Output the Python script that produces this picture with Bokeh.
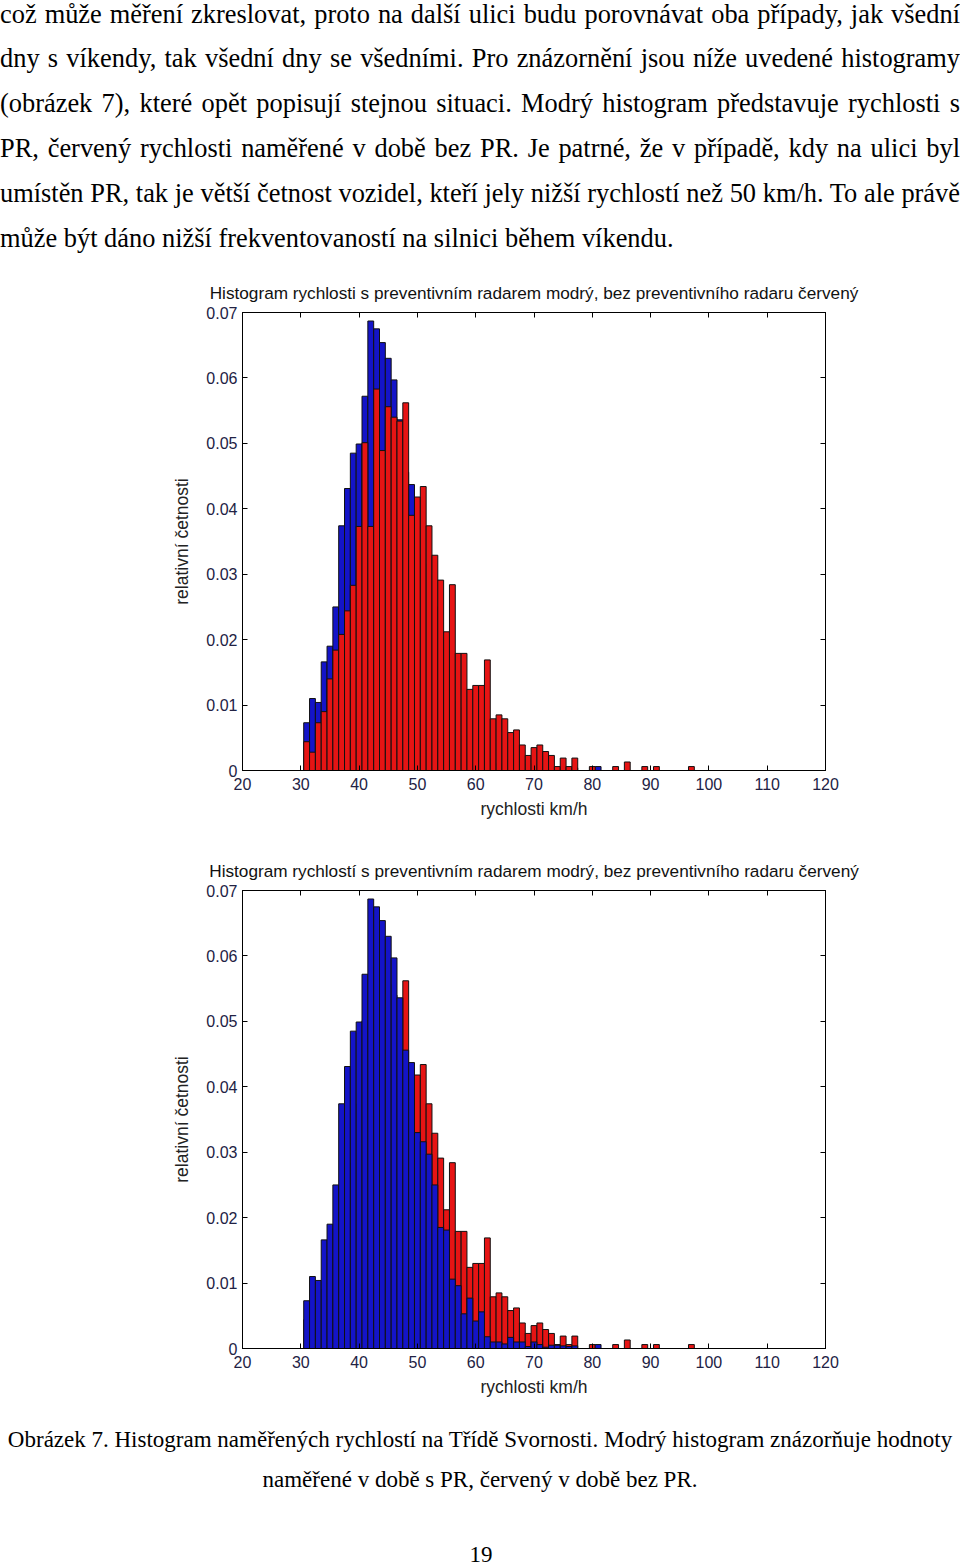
import unicodedata
from bokeh.plotting import figure
from bokeh.models import (Div, Range1d, FixedTicker, LinearAxis, NumeralTickFormatter,
                          ColumnDataSource)
from bokeh.layouts import column
from bokeh.embed import file_html
from bokeh.resources import INLINE

# ---------------- data ----------------
speeds = list(range(31, 98))
blue_vals = [0.0073, 0.0110, 0.0104, 0.0166, 0.0190, 0.0250, 0.0374, 0.0431, 0.0485, 0.0499,
             0.0572, 0.0687, 0.0675, 0.0654, 0.0630, 0.0597, 0.0536, 0.0456, 0.0437, 0.0330,
             0.0316, 0.0297, 0.0250, 0.0185, 0.0181, 0.0106, 0.0096, 0.0053, 0.0077, 0.0042,
             0.0056, 0.0018, 0.0010, 0.0010, 0.0007, 0.0017, 0.0010, 0.0010, 0.0003, 0.0010,
             0.0006, 0.0002, 0.0005, 0.0005, 0.0004, 0.0003, 0.0004, 0.0, 0.0, 0.0,
             0.0006, 0.0, 0.0, 0.0, 0.0, 0.0, 0.0, 0.0, 0.0, 0.0,
             0.0, 0.0, 0.0, 0.0, 0.0, 0.0, 0.0]
red_vals = [0.0044, 0.0028, 0.0073, 0.0090, 0.0140, 0.0184, 0.0208, 0.0244, 0.0283, 0.0373,
            0.0501, 0.0373, 0.0583, 0.0489, 0.0556, 0.0540, 0.0534, 0.0562, 0.0390, 0.0418,
            0.0434, 0.0374, 0.0329, 0.0291, 0.0212, 0.0284, 0.0179, 0.0179, 0.0124, 0.0130,
            0.0130, 0.0169, 0.0079, 0.0085, 0.0079, 0.0058, 0.0062, 0.0039, 0.0023, 0.0035,
            0.0039, 0.0029, 0.0023, 0.0006, 0.0019, 0.0006, 0.0019, 0.0, 0.0, 0.0006,
            0.0, 0.0, 0.0, 0.0006, 0.0, 0.0013, 0.0, 0.0, 0.0006, 0.0,
            0.0006, 0.0, 0.0, 0.0, 0.0, 0.0, 0.0006]
x_ticks = [20, 30, 40, 50, 60, 70, 80, 90, 100, 110, 120]
y_ticks = [0, 0.01, 0.02, 0.03, 0.04, 0.05, 0.06, 0.07]
titles = ["Histogram rychlosti s preventivním radarem modrý, bez preventivního radaru červený",
          "Histogram rychlostí s preventivním radarem modrý, bez preventivního radaru červený"]
x_label = "rychlosti km/h"
y_label = "relativní četnosti"

para_lines = [
    "což může měření zkreslovat, proto na další ulici budu porovnávat oba případy, jak všední",
    "dny s víkendy, tak všední dny se všedními. Pro znázornění jsou níže uvedené histogramy",
    "(obrázek 7), které opět popisují stejnou situaci. Modrý histogram představuje rychlosti s",
    "PR, červený rychlosti naměřené v době bez PR. Je patrné, že v případě, kdy na ulici byl",
    "umístěn PR, tak je větší četnost vozidel, kteří jely nižší rychlostí než 50 km/h. To ale právě",
    "může být dáno nižší frekventovaností na silnici během víkendu.",
]
caption_lines = [
    "Obrázek 7. Histogram naměřených rychlostí na Třídě Svornosti. Modrý histogram znázorňuje hodnoty",
    "naměřené v době s PR, červený v době bez PR.",
]
page_number = "19"

BLUE = "#1414C8"
RED = "#E61414"
SANS = "Liberation Sans"
SERIF = "Liberation Serif"
PARA_SIZE = 26.4

# Times-compatible advance widths (per 1000 em), used to keep justified lines on one line
_W = dict(zip("abcdefghijklmnopqrstuvwxyz",
              [444, 500, 444, 500, 444, 333, 500, 500, 278, 278, 500, 278, 778, 500, 500, 500,
               500, 333, 389, 278, 500, 500, 722, 500, 500, 444]))
_W.update(dict(zip("ABCDEFGHIJKLMNOPQRSTUVWXYZ",
                   [722, 667, 667, 722, 611, 556, 722, 722, 333, 389, 722, 611, 889, 722, 722,
                    556, 722, 667, 556, 611, 722, 722, 944, 722, 722, 611])))
_W.update({" ": 250, ",": 250, ".": 250, "(": 333, ")": 333, "/": 278, "-": 333})
_W.update({d: 500 for d in "0123456789"})


def text_width(s, size):
    tot = 0
    for ch in s:
        base = unicodedata.normalize("NFD", ch)[0]
        tot += _W.get(base, 500)
    return tot * size / 1000.0


def series_source(vals):
    xs = [s for s, v in zip(speeds, vals) if v > 0]
    ys = [v for v in vals if v > 0]
    return ColumnDataSource(dict(left=[x - 0.5 for x in xs], right=[x + 0.5 for x in xs],
                                 top=ys, bottom=[0] * len(ys)))


def make_hist(title, order, height, border_bottom):
    p = figure(width=960, height=height, output_backend="svg", toolbar_location=None,
               x_range=Range1d(20, 120), y_range=Range1d(0, 0.07),
               min_border_left=242, min_border_right=135,
               min_border_top=47, min_border_bottom=border_bottom)
    p.background_fill_color = "white"
    p.border_fill_color = "white"
    p.outline_line_color = "black"
    p.outline_line_width = 1
    p.grid.visible = False
    p.title.text = title
    p.title.align = "center"
    p.title.text_font = SANS
    p.title.text_font_size = "17.2px"
    p.title.text_font_style = "normal"
    p.title.text_color = "#111111"
    p.title.standoff = 19

    for name in order:
        src = series_source(blue_vals if name == "blue" else red_vals)
        p.quad(left="left", right="right", top="top", bottom="bottom", source=src,
               fill_color=BLUE if name == "blue" else RED, line_color="#111111", line_width=1)

    for ax in p.xaxis:
        ax.ticker = FixedTicker(ticks=x_ticks)
        ax.axis_label = x_label
    for ax in p.yaxis:
        ax.ticker = FixedTicker(ticks=y_ticks)
        ax.formatter = NumeralTickFormatter(format="0.[00]")
        ax.axis_label = y_label
    for ax in list(p.xaxis) + list(p.yaxis):
        ax.major_tick_in = 5
        ax.major_tick_out = 0
        ax.minor_tick_line_color = None
        ax.axis_line_color = "black"
        ax.major_tick_line_color = "black"
        ax.major_label_text_font = SANS
        ax.major_label_text_font_size = "16px"
        ax.major_label_text_color = "#222244"
        ax.axis_label_text_font = SANS
        ax.axis_label_text_font_size = "17.5px"
        ax.axis_label_text_font_style = "normal"
        ax.axis_label_text_color = "#222222"
    p.xaxis.major_label_standoff = 7
    p.yaxis.major_label_standoff = 5
    p.xaxis.axis_label_standoff = 6
    p.yaxis.axis_label_standoff = 11

    top_ax = LinearAxis(ticker=FixedTicker(ticks=x_ticks), major_label_text_font_size="0px",
                        major_label_text_color=None,
                        major_tick_in=5, major_tick_out=0, minor_tick_line_color=None,
                        axis_line_color="black", major_label_standoff=0)
    right_ax = LinearAxis(ticker=FixedTicker(ticks=y_ticks), major_label_text_font_size="0px",
                          major_label_text_color=None,
                          major_tick_in=5, major_tick_out=0, minor_tick_line_color=None,
                          axis_line_color="black", major_label_standoff=0)
    p.add_layout(top_ax, "above")
    p.add_layout(right_ax, "right")
    p.margin = 0
    return p


p1 = make_hist(titles[0], ["blue", "red"], 578, 73)
p2 = make_hist(titles[1], ["red", "blue"], 580, 75)

line_divs = []
for i, ln in enumerate(para_lines):
    last = i == len(para_lines) - 1
    align = "text-align:left;" if last else "text-align:justify;text-align-last:justify;"
    extra = ""
    if not last:
        natural = text_width(ln, PARA_SIZE)
        n_sp = ln.count(" ")
        if natural > 954:
            extra = f"word-spacing:{(952 - natural) / n_sp:.2f}px;"
    if i == 0:
        extra += "line-height:28px;margin-bottom:8px;"
    line_divs.append(f'<div style="{align}{extra}white-space:nowrap;">{ln}</div>')
para_html = (f'<div style="font-family:\'{SERIF}\';font-size:{PARA_SIZE}px;line-height:45px;'
             f'color:#000;width:960px;">' + "".join(line_divs) + "</div>")
div_top = Div(text=para_html, width=960, height=265, margin=0,
              styles={"overflow": "hidden"})

cap_html = (f'<div style="font-family:\'{SERIF}\';font-size:23px;line-height:40px;color:#000;'
            f'width:960px;text-align:center;">'
            + f'<div style="white-space:nowrap;line-height:34px;margin-bottom:3px;">'
              f'{caption_lines[0]}</div>'
            + f'<div style="white-space:nowrap;">{caption_lines[1]}</div>'
            + f'<div style="margin-top:45px;line-height:20px;padding-left:2px;">{page_number}</div>'
            + '</div>')
div_bot = Div(text=cap_html, width=960, height=145, margin=0,
              styles={"overflow": "hidden"})

layout = column(div_top, p1, p2, div_bot, spacing=0)

open("out.html", "w").write(file_html(layout, INLINE))
